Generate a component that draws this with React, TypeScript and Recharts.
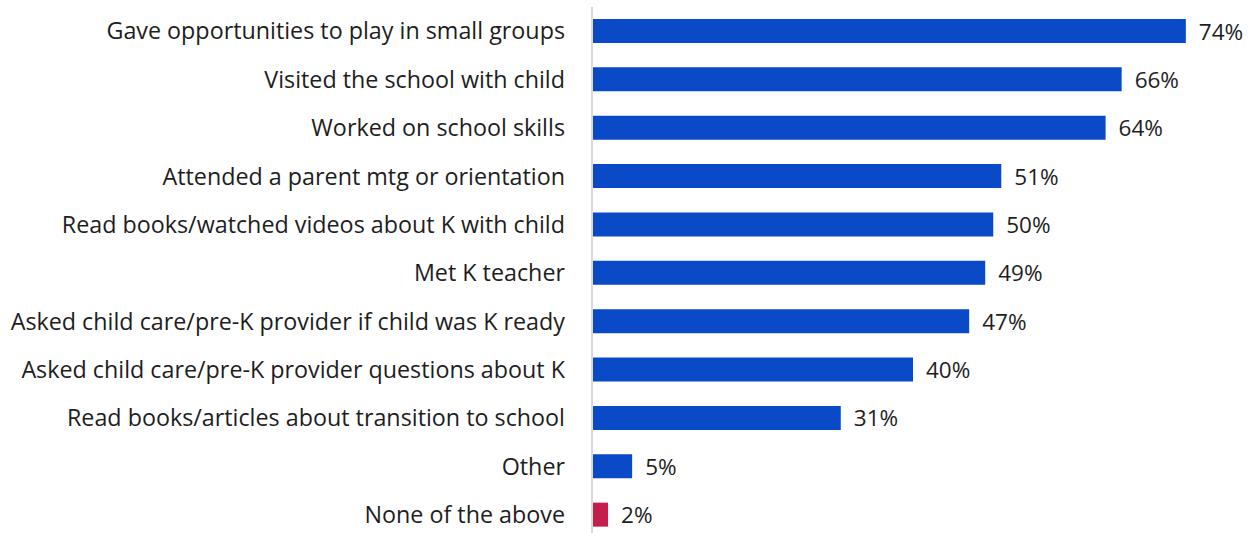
import React from 'react';
import { BarChart, Bar, XAxis, YAxis, Cell } from 'recharts';

const categories = [
  'Gave opportunities to play in small groups',
  'Visited the school with child',
  'Worked on school skills',
  'Attended a parent mtg or orientation',
  'Read books/watched videos about K with child',
  'Met K teacher',
  'Asked child care/pre-K provider if child was K ready',
  'Asked child care/pre-K provider questions about K',
  'Read books/articles about transition to school',
  'Other',
  'None of the above',
];
const values = [74, 66, 64, 51, 50, 49, 47, 40, 31, 5, 2];

const blue = '#0A4AC6';
const red = '#C41E4D';
const font = '"Open Sans", sans-serif';

const data = categories.map((name, i) => ({ name, value: values[i] }));

// value label to the right of each bar
const ValueLabel = (props: any) => {
  const { x, y, width, height, value } = props;
  return (
    <text
      x={Number(x) + Number(width) + 13}
      y={Number(y) + Number(height) / 2}
      dominantBaseline="central"
      fill="#1E1E1E"
      fontSize={22.5}
      fontFamily={font}
    >
      {`${value}%`}
    </text>
  );
};

const App: React.FC = () => {
  return (
    <div style={{ position: 'absolute', left: 0, top: 0, width: 1257, height: 533, overflow: 'hidden', background: '#fff' }}>
      <BarChart
        width={1257}
        height={546}
        data={data}
        layout="vertical"
        margin={{ top: 7, right: 23, left: 0, bottom: 7 }}
      >
        <XAxis type="number" dataKey="value" domain={[0, 80]} hide />
        <YAxis
          type="category"
          dataKey="name"
          width={592}
          axisLine={{ stroke: '#D9D9D9', strokeWidth: 2 }}
          tickLine={false}
          tickMargin={21}
          interval={0}
          tick={{ fill: '#1E1E1E', fontSize: 23.3, fontFamily: font }}
        />
        <Bar dataKey="value" fill={blue} barSize={24} isAnimationActive={false} label={<ValueLabel />}>
          {data.map((d, i) => (
            <Cell key={d.name} fill={i === data.length - 1 ? red : blue} />
          ))}
        </Bar>
      </BarChart>
    </div>
  );
};

export default App;
